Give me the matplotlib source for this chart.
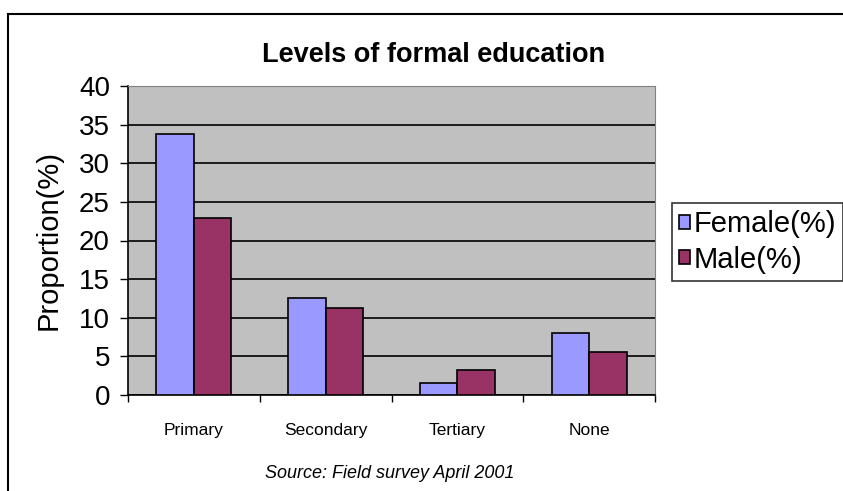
import numpy as np
import matplotlib.pyplot as plt
from matplotlib.patches import Rectangle

plt.rcParams['font.family'] = ['Liberation Sans', 'DejaVu Sans']

categories = ['Primary', 'Secondary', 'Tertiary', 'None']
female = [33.8, 12.6, 1.5, 8.0]
male = [22.9, 11.2, 3.3, 5.6]
series_names = ['Female(%)', 'Male(%)']
female_color = '#9999FF'
male_color = '#993366'

fig = plt.figure(figsize=(8.43, 4.91), dpi=100)
# chart frame (excel style, runs off the right/bottom of the picture)
fig.patches.append(Rectangle((8 / 843, -0.1), 2.0, (491 - 14) / 491 + 0.1,
                             transform=fig.transFigure, fill=False,
                             edgecolor='black', linewidth=1.5, zorder=0))

ax = fig.add_axes([128 / 843, 96 / 491, 527 / 843, 309 / 491])
ax.set_facecolor('#C0C0C0')

x = np.arange(len(categories))
w = 0.285
ax.bar(x - w / 2, female, w, color=female_color, edgecolor='black', linewidth=1.2,
       label=series_names[0], zorder=3)
ax.bar(x + w / 2, male, w, color=male_color, edgecolor='black', linewidth=1.2,
       label=series_names[1], zorder=3)

ax.set_xlim(-0.5, len(categories) - 0.5)
ax.set_ylim(0, 40)
ax.set_yticks(range(0, 41, 5))
ax.yaxis.grid(True, color='black', linewidth=1.2, zorder=1)
ax.set_axisbelow(True)

ax.set_xticks(x)
ax.set_xticklabels(categories, fontsize=12.5)
ax.set_xticks(np.arange(-0.5, len(categories), 1.0), minor=True)
ax.tick_params(axis='x', which='major', length=0, pad=20)
ax.tick_params(axis='x', which='minor', length=5, width=1, direction='out')
ax.tick_params(axis='y', labelsize=20, length=6, width=1, direction='out', pad=7)

for side in ['top', 'right']:
    ax.spines[side].set_color('#808080')
for side in ['left', 'bottom']:
    ax.spines[side].set_color('black')
    ax.spines[side].set_linewidth(1.2)

ax.set_ylabel('Proportion(%)', fontsize=21, labelpad=12)
fig.text(434 / 843, 1 - 55 / 491, 'Levels of formal education', ha='center',
         va='center', fontsize=19.5, fontweight='bold')
fig.text(390 / 843, 1 - 474 / 491, 'Source: Field survey April 2001', ha='center',
         va='center', fontsize=13, style='italic')

leg = ax.legend(loc='upper left', bbox_to_anchor=(672 / 843, 1 - 203 / 491),
                bbox_transform=fig.transFigure, fontsize=21, frameon=True,
                fancybox=False, edgecolor='black', handlelength=0.38,
                handleheight=0.38, handletextpad=0.1, borderpad=0.25,
                labelspacing=0.25, borderaxespad=0)
leg.get_frame().set_linewidth(1.2)

fig.savefig('out.png', dpi=100)
